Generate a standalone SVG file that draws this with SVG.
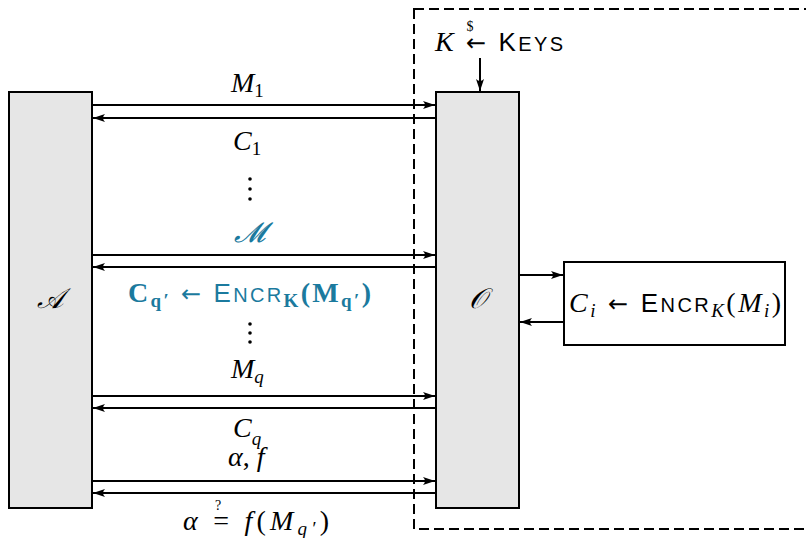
<svg xmlns="http://www.w3.org/2000/svg" width="806" height="538" viewBox="0 0 806 538">
<defs>
<marker id="ah" viewBox="0 0 12 8" refX="12" refY="4" markerWidth="12" markerHeight="8" markerUnits="userSpaceOnUse" orient="auto">
<path d="M0,0 Q4,4 0,8 L12,4 Z" fill="#000"/>
</marker>
</defs>
<style>
.box{fill:#e6e6e6;stroke:#000;stroke-width:2}
.wbox{fill:#fff;stroke:#000;stroke-width:2}
.ln{stroke:#000;stroke-width:2;fill:none}
.m{font-family:"Liberation Serif",serif;font-style:italic;font-size:28px;fill:#000}
.r{font-family:"Liberation Serif",serif;font-style:normal}
.k{fill:#000}
.ar{font-family:"DejaVu Sans",sans-serif;font-style:normal;font-weight:normal;font-size:24px}
.s{font-family:"Liberation Sans",sans-serif;font-style:normal;font-weight:normal;font-size:26px}
.sc{font-size:20px}
.t{fill:#1b7a9e}
.sub{font-size:19px}
</style>
<rect x="414" y="9" width="400" height="520" fill="none" stroke="#000" stroke-width="2" stroke-dasharray="10,5"/>
<g id="nodeA"><rect class="box" x="9" y="92" width="83" height="416"/><text class="m" x="50" y="308" text-anchor="middle">𝒜</text></g>
<g id="nodeO"><rect class="box" x="436" y="92" width="83" height="416"/><text class="m" x="478" y="308" text-anchor="middle">𝒪</text></g>
<g id="nodeEnc"><rect class="wbox" x="564" y="262" width="221" height="83"/>
<text class="m" x="569" y="312" textLength="212" lengthAdjust="spacing">C<tspan class="sub" dy="5">i</tspan><tspan class="ar" dy="-5"> ← </tspan><tspan class="s">E<tspan class="sc">NCR</tspan></tspan><tspan class="sub" dy="5">K</tspan><tspan class="r" dy="-5">(</tspan>M<tspan class="sub" dy="5">i</tspan><tspan class="r" dy="-5">)</tspan></text>
</g>
<g id="nodeKeys">
<text class="m" x="435" y="51" textLength="128" lengthAdjust="spacing">K<tspan class="ar"> ← </tspan><tspan class="s">K<tspan class="sc">EYS</tspan></tspan></text>
<text class="r k" x="470" y="31" font-size="14" text-anchor="middle">$</text>
</g>
<g id="connectors">
<line class="ln" x1="480" y1="58" x2="480" y2="91" marker-end="url(#ah)"/>
<line class="ln" x1="92" y1="105" x2="435" y2="105" marker-end="url(#ah)"/>
<line class="ln" x1="436" y1="118" x2="93" y2="118" marker-end="url(#ah)"/>
<line class="ln" x1="92" y1="255" x2="435" y2="255" marker-end="url(#ah)"/>
<line class="ln" x1="436" y1="267" x2="93" y2="267" marker-end="url(#ah)"/>
<line class="ln" x1="92" y1="396" x2="435" y2="396" marker-end="url(#ah)"/>
<line class="ln" x1="436" y1="408" x2="93" y2="408" marker-end="url(#ah)"/>
<line class="ln" x1="92" y1="481" x2="435" y2="481" marker-end="url(#ah)"/>
<line class="ln" x1="436" y1="493" x2="93" y2="493" marker-end="url(#ah)"/>
<line class="ln" x1="519" y1="275" x2="563" y2="275" marker-end="url(#ah)"/>
<line class="ln" x1="564" y1="322" x2="520" y2="322" marker-end="url(#ah)"/>
</g>
<g id="labels">
<text class="m" x="231" y="92">M<tspan class="sub r" dy="5">1</tspan></text>
<text class="m" x="233" y="150">C<tspan class="sub r" dy="5">1</tspan></text>
<g fill="#000"><circle cx="250" cy="179" r="1.8"/><circle cx="250" cy="189" r="1.8"/><circle cx="250" cy="199" r="1.8"/></g>
<text class="m t" x="249" y="242" text-anchor="middle">𝓜</text>
<text class="m r t" x="128" y="302" font-weight="bold" textLength="243" lengthAdjust="spacing">C<tspan class="sub" dy="5">q′</tspan><tspan class="ar" dy="-5"> ← </tspan><tspan class="s">E<tspan class="sc">NCR</tspan></tspan><tspan class="sub" dy="5">K</tspan><tspan dy="-5">(M</tspan><tspan class="sub" dy="5">q′</tspan><tspan dy="-5">)</tspan></text>
<g fill="#000"><circle cx="250" cy="324" r="1.8"/><circle cx="250" cy="333" r="1.8"/><circle cx="250" cy="342" r="1.8"/></g>
<text class="m" x="231" y="378">M<tspan class="sub" dy="5">q</tspan></text>
<text class="m" x="233" y="437">C<tspan class="sub" dy="8">q</tspan></text>
<text class="m" x="228" y="466">α<tspan class="r">, </tspan>f</text>
<text class="m" x="183" y="530" textLength="146" lengthAdjust="spacing">α <tspan class="r">=</tspan> f<tspan class="r">(</tspan>M<tspan class="sub" dy="5">q′</tspan><tspan class="r" dy="-5">)</tspan></text>
<text class="r k" x="218" y="510" font-size="14" text-anchor="middle">?</text>
</g>
</svg>
